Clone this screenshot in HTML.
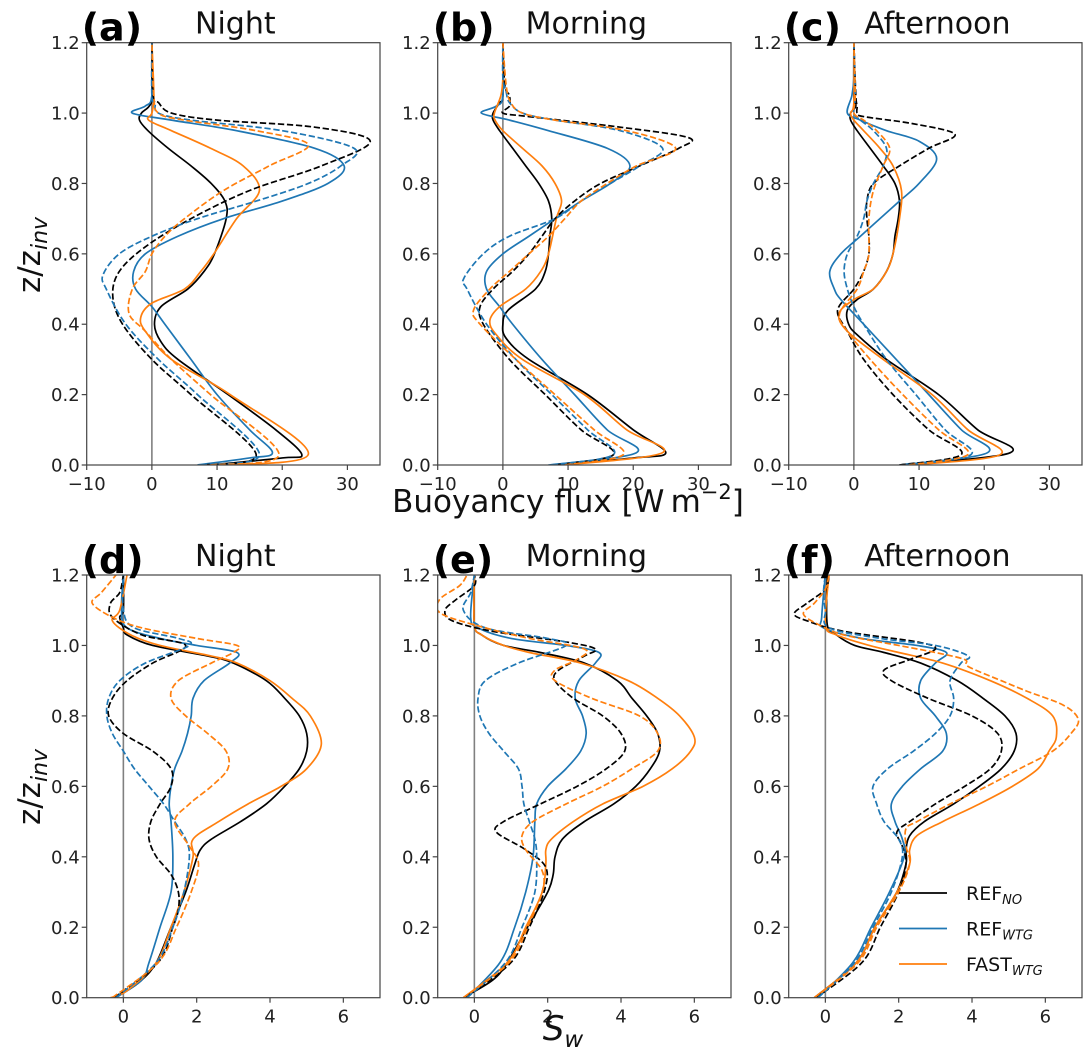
<!DOCTYPE html>
<html><head><meta charset="utf-8">
<style>
body{margin:0;background:#fff;}
svg{display:block;font-family:"DejaVu Sans","Liberation Sans",sans-serif;}
</style></head>
<body>
<svg id="chart" width="1091" height="1054" viewBox="0 0 1091 1054" xmlns="http://www.w3.org/2000/svg">
<rect width="1091" height="1054" fill="#fff"/>
<g id="root"></g>
</svg>
<script>
// ===== data: each profile is a list of [z/z_inv, value] =====
const panelLabels = ["(a)","(b)","(c)","(d)","(e)","(f)"];
const panelTitles = ["Night","Morning","Afternoon","Night","Morning","Afternoon"];
const seriesNames = ["REF_NO solid","REF_WTG solid","FAST_WTG solid","REF_NO dashed","REF_WTG dashed","FAST_WTG dashed"];
const topXTicks = [-10,0,10,20,30];
const botXTicks = [0,2,4,6];
const yTicks = [0,0.2,0.4,0.6,0.8,1.0,1.2];

const aBlack = [[0,9],[0.02,20],[0.03,23],[0.1,19],[0.2,11.7],[0.3,4],[0.35,1.4],[0.4,0.4],[0.45,1.4],[0.5,5.5],[0.55,8],[0.6,9.6],[0.7,11.4],[0.75,11.2],[0.8,9.1],[0.85,6],[0.9,2.5],[0.95,-0.6],[0.98,-1.9],[1.0,-1.6],[1.02,-0.4],[1.05,0],[1.2,0]];
const aBlue = [[0,7],[0.02,15],[0.035,18.5],[0.1,15],[0.2,10],[0.3,6],[0.4,2],[0.45,0],[0.5,-2.5],[0.55,-2.8],[0.6,-1],[0.65,4],[0.7,11],[0.75,20],[0.8,27],[0.85,29.5],[0.9,25],[0.95,13],[0.98,3],[1.0,-3],[1.02,-1],[1.05,0],[1.2,0]];
const aOrange = [[0,9],[0.03,24],[0.2,12],[0.3,3],[0.38,-1],[0.42,-1.7],[0.46,0],[0.5,5],[0.55,7.5],[0.6,9.5],[0.7,13],[0.78,16.5],[0.85,14],[0.9,9],[0.95,3],[0.98,-0.5],[1.0,0],[1.05,0.3],[1.2,0]];
const aBlackD = [[0,8],[0.03,16],[0.2,6],[0.3,0],[0.4,-4.5],[0.48,-6],[0.55,-5],[0.62,-1],[0.7,6],[0.78,15],[0.85,26],[0.92,33.5],[0.96,25],[0.98,10],[1.0,3],[1.03,1],[1.05,0.2],[1.2,0]];
const aBlueD = [[0,7.5],[0.03,16.5],[0.2,7],[0.3,1],[0.4,-4],[0.5,-7],[0.54,-7.5],[0.6,-5],[0.65,0],[0.7,7],[0.75,16],[0.8,24],[0.85,29],[0.9,31],[0.95,20],[0.98,6],[1.0,1],[1.03,0.5],[1.05,0],[1.2,0]];
const aOrangeD = [[0,9],[0.03,19.5],[0.2,9],[0.3,3],[0.38,-1],[0.43,-3.5],[0.5,-3],[0.55,-1],[0.6,0],[0.65,2],[0.7,5],[0.78,11],[0.85,18],[0.91,24],[0.95,16],[0.98,5],[1.0,1],[1.05,0.3],[1.2,0]];

const bBlack = [[0,8],[0.02,20],[0.035,25],[0.1,20],[0.2,13],[0.3,4],[0.36,0.5],[0.4,0],[0.44,0.8],[0.5,5],[0.55,6.5],[0.6,7],[0.65,7.2],[0.7,7.5],[0.75,7],[0.8,5.5],[0.85,3.5],[0.9,1.5],[0.95,-0.5],[0.98,-1.5],[1.0,-1.5],[1.03,-0.5],[1.05,0],[1.2,0]];
const bBlue = [[0,7],[0.035,20.5],[0.1,16],[0.2,11],[0.3,6],[0.4,1.5],[0.45,-0.5],[0.5,-2.5],[0.55,-2.5],[0.6,0],[0.65,4],[0.7,8],[0.75,12],[0.8,16.5],[0.85,19.5],[0.9,16],[0.95,7],[0.98,1],[1.0,-3.3],[1.02,-1],[1.05,0],[1.2,0]];
const bOrange = [[0,9.5],[0.035,24.5],[0.1,19],[0.2,12.5],[0.3,3],[0.37,-1],[0.41,-2],[0.45,-0.5],[0.5,3.5],[0.55,5.8],[0.6,7],[0.7,8.2],[0.75,9],[0.8,8],[0.85,6],[0.9,3],[0.95,0],[0.98,-1.2],[1.0,-1.3],[1.05,-0.3],[1.1,0],[1.2,0]];
const bBlackD = [[0,8],[0.03,17],[0.1,12],[0.2,6.5],[0.3,1],[0.4,-3],[0.45,-3.5],[0.5,-1.5],[0.55,1.5],[0.6,4],[0.65,6],[0.7,8],[0.75,11],[0.8,15],[0.85,21],[0.9,27],[0.93,28.5],[0.96,18],[0.99,4],[1.0,0],[1.02,1],[1.05,1],[1.08,0.3],[1.2,0]];
const bBlueD = [[0,7.5],[0.03,17],[0.1,13],[0.2,7.5],[0.3,2],[0.4,-2.5],[0.5,-5.5],[0.53,-6],[0.6,-3],[0.65,1],[0.7,8],[0.75,12],[0.8,16.5],[0.85,21],[0.9,24.5],[0.95,18],[0.98,8],[1.0,3],[1.03,1],[1.06,0.5],[1.1,0],[1.2,0]];
const bOrangeD = [[0,9.5],[0.03,18.5],[0.1,14],[0.2,8],[0.3,2],[0.4,-3.5],[0.44,-4.5],[0.5,-2],[0.55,1],[0.6,4],[0.65,7],[0.7,9.5],[0.75,12],[0.8,16],[0.85,20.5],[0.9,26.5],[0.95,19],[0.98,8],[1.0,3],[1.03,1.2],[1.08,0.5],[1.2,0]];

const cBlack = [[0,7],[0.035,24],[0.1,19],[0.2,13],[0.3,5],[0.37,0.5],[0.4,-0.8],[0.44,-1],[0.47,0.5],[0.5,3],[0.55,5],[0.6,6],[0.65,6.3],[0.7,6.8],[0.75,7],[0.8,6.3],[0.85,4.5],[0.9,2.5],[0.95,0.5],[0.98,-0.5],[1.0,-0.5],[1.02,0.3],[1.05,0],[1.2,0]];
const cBlue = [[0,7],[0.035,20.5],[0.1,16.5],[0.2,11.5],[0.3,6.5],[0.4,1.5],[0.47,-2],[0.5,-3],[0.55,-3.7],[0.6,-2],[0.65,1],[0.7,4],[0.75,7],[0.8,10],[0.87,12.7],[0.92,10],[0.95,5],[0.98,1],[1.0,-1],[1.05,-0.3],[1.1,0],[1.2,0]];
const cOrange = [[0,9],[0.03,22.5],[0.1,17.5],[0.2,12],[0.3,4.5],[0.38,-1],[0.43,-2.3],[0.47,0],[0.5,3],[0.55,5],[0.6,6],[0.7,7],[0.78,7.3],[0.85,6],[0.9,4],[0.95,1.5],[0.98,0],[1.0,-0.5],[1.03,0],[1.2,0]];
const cBlackD = [[0,7],[0.03,16.5],[0.1,11.5],[0.2,6],[0.3,1.5],[0.38,-1],[0.44,-2.5],[0.5,0],[0.55,1.5],[0.6,2.3],[0.65,2.3],[0.7,2],[0.75,2],[0.8,3],[0.85,7],[0.9,11.5],[0.94,15.5],[0.97,9],[0.99,1.5],[1.0,0.5],[1.02,0.5],[1.05,0.3],[1.2,0]];
const cBlueD = [[0,8],[0.03,18],[0.1,14],[0.2,9.5],[0.3,5],[0.4,1.5],[0.45,0],[0.5,-1],[0.55,-1.5],[0.6,-1],[0.65,0.5],[0.7,1.5],[0.75,2],[0.8,3],[0.85,4.5],[0.9,5],[0.95,3],[0.98,1],[1.0,0],[1.05,0.2],[1.2,0]];
const cOrangeD = [[0,8.5],[0.03,17.5],[0.1,13],[0.2,7.5],[0.3,2.5],[0.38,-1],[0.43,-2.2],[0.5,0.5],[0.55,1.5],[0.6,2.3],[0.7,2.3],[0.78,3],[0.85,4.5],[0.9,5.5],[0.95,3.5],[0.98,1.5],[1.0,0],[1.05,0.2],[1.2,0]];

const dBlack = [[0,-0.3],[0.02,0.1],[0.05,0.5],[0.1,0.9],[0.2,1.3],[0.3,1.7],[0.38,1.95],[0.42,2.1],[0.45,2.4],[0.5,3.2],[0.55,3.9],[0.6,4.4],[0.65,4.8],[0.7,5.0],[0.75,5.0],[0.8,4.8],[0.85,4.4],[0.9,3.9],[0.95,3.0],[0.97,2.3],[1.0,0.8],[1.03,0.1],[1.05,0],[1.08,-0.1],[1.1,0],[1.2,0]];
const dBlue = [[0,-0.2],[0.05,0.5],[0.1,0.7],[0.2,1.0],[0.3,1.3],[0.4,1.35],[0.5,1.3],[0.55,1.25],[0.6,1.3],[0.65,1.4],[0.7,1.6],[0.75,1.75],[0.8,1.85],[0.85,1.9],[0.9,2.2],[0.95,2.9],[0.98,3.1],[1.0,2.0],[1.02,1.0],[1.05,0.1],[1.1,-0.05],[1.2,0]];
const dOrange = [[0,-0.35],[0.02,0.1],[0.1,0.9],[0.2,1.3],[0.3,1.65],[0.4,1.9],[0.45,1.9],[0.5,2.6],[0.55,3.4],[0.6,4.3],[0.65,5.0],[0.72,5.4],[0.8,5.1],[0.85,4.6],[0.9,4.0],[0.95,3.1],[0.97,2.4],[1.0,1],[1.03,0.2],[1.07,-0.3],[1.1,-0.1],[1.2,0.1]];
const dBlackD = [[0,-0.25],[0.1,0.95],[0.2,1.35],[0.25,1.5],[0.3,1.5],[0.35,1.3],[0.4,0.9],[0.45,0.7],[0.5,0.75],[0.55,1.0],[0.6,1.3],[0.65,1.3],[0.7,0.8],[0.75,0.0],[0.8,-0.4],[0.85,-0.3],[0.9,0.1],[0.95,0.8],[1.0,1.7],[1.03,0.5],[1.08,-0.3],[1.12,-0.35],[1.15,-0.1],[1.2,0]];
const dBlueD = [[0,-0.2],[0.1,0.9],[0.2,1.35],[0.3,1.65],[0.4,1.8],[0.45,1.7],[0.5,1.4],[0.55,1.1],[0.6,0.7],[0.65,0.3],[0.7,0.0],[0.75,-0.3],[0.8,-0.45],[0.85,-0.4],[0.9,-0.1],[0.95,0.6],[1.0,1.8],[1.02,1.5],[1.05,0.3],[1.1,0],[1.2,0]];
const dOrangeD = [[0,-0.3],[0.1,0.95],[0.2,1.45],[0.3,1.85],[0.38,2.05],[0.43,1.8],[0.5,1.4],[0.55,1.8],[0.6,2.4],[0.65,2.85],[0.7,2.8],[0.75,2.3],[0.8,1.7],[0.85,1.3],[0.9,1.5],[0.95,2.4],[0.98,3.0],[1.0,3.1],[1.02,2],[1.05,0.5],[1.08,-0.3],[1.12,-0.85],[1.15,-0.6],[1.2,-0.2]];

const eBlack = [[0,-0.3],[0.05,0.5],[0.1,0.9],[0.2,1.45],[0.3,2.0],[0.35,2.15],[0.4,2.2],[0.45,2.4],[0.5,3.0],[0.55,3.8],[0.6,4.4],[0.65,4.8],[0.7,5.05],[0.75,5.0],[0.8,4.7],[0.85,4.3],[0.9,3.9],[0.95,3.0],[0.98,1.8],[1.0,0.8],[1.03,0.2],[1.06,0],[1.2,0]];
const eBlue = [[0,-0.2],[0.1,0.7],[0.2,1.1],[0.3,1.4],[0.4,1.6],[0.5,1.65],[0.55,1.7],[0.6,2.0],[0.65,2.5],[0.7,2.9],[0.75,3.05],[0.8,2.95],[0.85,2.75],[0.9,2.85],[0.95,3.3],[0.98,3.4],[1.0,2.5],[1.02,1.0],[1.05,0.1],[1.08,-0.1],[1.2,0]];
const eOrange = [[0,-0.3],[0.1,0.9],[0.2,1.4],[0.3,1.85],[0.38,1.95],[0.42,1.95],[0.45,2.1],[0.5,2.7],[0.55,3.5],[0.6,4.6],[0.65,5.4],[0.7,5.9],[0.74,6.0],[0.8,5.6],[0.85,5.0],[0.9,4.2],[0.95,2.9],[0.98,1.5],[1.0,0.8],[1.03,0.2],[1.06,0],[1.2,0]];
const eBlackD = [[0,-0.25],[0.1,1.0],[0.2,1.5],[0.3,1.9],[0.37,1.95],[0.42,1.4],[0.47,0.6],[0.5,0.8],[0.55,1.8],[0.6,2.8],[0.65,3.6],[0.7,4.1],[0.75,4.0],[0.8,3.5],[0.85,2.7],[0.9,2.2],[0.93,2.3],[0.97,3.0],[0.99,3.3],[1.01,2.5],[1.04,0.5],[1.07,-0.6],[1.1,-0.8],[1.13,-0.5],[1.17,0],[1.2,0]];
const eBlueD = [[0,-0.2],[0.1,0.85],[0.2,1.3],[0.3,1.65],[0.4,1.7],[0.45,1.65],[0.5,1.5],[0.55,1.35],[0.6,1.3],[0.65,1.2],[0.7,0.8],[0.75,0.4],[0.8,0.15],[0.85,0.1],[0.9,0.3],[0.95,1.2],[1.0,2.5],[1.02,2.0],[1.05,0.3],[1.1,-0.3],[1.15,-0.1],[1.2,0]];
const eOrangeD = [[0,-0.3],[0.1,0.95],[0.2,1.45],[0.3,1.85],[0.36,1.85],[0.42,1.4],[0.46,1.3],[0.5,1.6],[0.55,2.5],[0.6,3.5],[0.65,4.3],[0.7,5.0],[0.75,5.0],[0.8,4.5],[0.85,3.2],[0.9,2.2],[0.93,2.2],[0.96,2.8],[0.99,3.0],[1.02,1.5],[1.05,0.3],[1.09,-0.9],[1.13,-0.95],[1.17,-0.4],[1.2,-0.2]];

const fBlack = [[0,-0.3],[0.1,0.85],[0.2,1.35],[0.3,1.95],[0.38,2.2],[0.42,2.2],[0.46,2.3],[0.5,2.7],[0.55,3.5],[0.6,4.2],[0.65,4.8],[0.7,5.15],[0.75,5.2],[0.8,4.9],[0.85,4.3],[0.9,3.6],[0.95,2.6],[0.98,1.6],[1.0,0.8],[1.03,0.3],[1.06,0.05],[1.2,0.05]];
const fBlue = [[0,-0.2],[0.1,0.75],[0.2,1.25],[0.3,1.75],[0.4,2.15],[0.45,2.1],[0.5,1.9],[0.55,1.8],[0.6,2.1],[0.65,2.6],[0.7,3.2],[0.75,3.3],[0.8,3.0],[0.85,2.6],[0.9,2.6],[0.95,3.0],[0.98,3.3],[1.0,2.5],[1.02,1.0],[1.05,-0.05],[1.08,-0.1],[1.2,0]];
const fOrange = [[0,-0.3],[0.1,0.85],[0.2,1.35],[0.3,1.95],[0.38,2.3],[0.42,2.3],[0.46,2.5],[0.5,3.2],[0.55,4.2],[0.6,5.1],[0.65,5.8],[0.7,6.1],[0.74,6.3],[0.8,6.2],[0.85,5.5],[0.9,4.5],[0.95,3.2],[0.98,2.0],[1.0,1.2],[1.03,0.3],[1.06,0],[1.2,0.1]];
const fBlackD = [[0,-0.25],[0.1,1.0],[0.2,1.5],[0.3,2.0],[0.38,2.2],[0.43,2.1],[0.47,1.95],[0.5,2.3],[0.55,3.0],[0.6,3.8],[0.65,4.5],[0.7,4.8],[0.75,4.7],[0.8,4.0],[0.85,2.8],[0.9,1.8],[0.93,1.6],[0.96,2.3],[0.99,3.0],[1.01,2.5],[1.04,0.5],[1.07,-0.5],[1.09,-0.85],[1.12,-0.5],[1.16,0],[1.2,0.1]];
const fBlueD = [[0,-0.2],[0.1,0.8],[0.2,1.3],[0.3,1.8],[0.4,2.1],[0.45,2.0],[0.5,1.6],[0.55,1.4],[0.6,1.3],[0.65,1.7],[0.7,2.4],[0.75,3.0],[0.8,3.4],[0.85,3.5],[0.9,3.4],[0.95,3.7],[0.97,3.9],[1.0,3.0],[1.02,1.5],[1.05,0.1],[1.1,0],[1.15,-0.05],[1.2,0]];
const fOrangeD = [[0,-0.3],[0.1,0.9],[0.2,1.4],[0.3,2.0],[0.38,2.3],[0.43,2.2],[0.48,2.2],[0.5,2.5],[0.55,3.4],[0.6,4.4],[0.65,5.3],[0.7,6.2],[0.75,6.7],[0.79,6.9],[0.83,6.5],[0.87,5.5],[0.9,4.8],[0.94,3.9],[0.96,3.8],[0.98,3.0],[1.0,2.0],[1.03,0.5],[1.06,-0.2],[1.09,-0.6],[1.12,-0.3],[1.16,0],[1.2,0.1]];

const panelSeries = [
  [aBlack,aBlue,aOrange,aBlackD,aBlueD,aOrangeD],
  [bBlack,bBlue,bOrange,bBlackD,bBlueD,bOrangeD],
  [cBlack,cBlue,cOrange,cBlackD,cBlueD,cOrangeD],
  [dBlack,dBlue,dOrange,dBlackD,dBlueD,dOrangeD],
  [eBlack,eBlue,eOrange,eBlackD,eBlueD,eOrangeD],
  [fBlack,fBlue,fOrange,fBlackD,fBlueD,fOrangeD]
];

// ===== drawing =====
const NS = "http://www.w3.org/2000/svg";
const root = document.getElementById('root');
const colors = ["#000000","#1f77b4","#ff7f0e","#000000","#1f77b4","#ff7f0e"];
function mk(tag, attrs, parent){const e=document.createElementNS(NS,tag);for(const k in attrs)e.setAttribute(k,attrs[k]);(parent||root).appendChild(e);return e;}

const frameL0 = 86.7, frameW = 293.3, colStep = 351;
const rows = [{top:42.7,bot:465,xmin:-10,xmax:35,ticks:topXTicks,fmt:v=>v<0?"\u2212"+(-v):String(v)},
              {top:575,bot:997.7,xmin:-1,xmax:7,ticks:botXTicks,fmt:v=>String(v)}];

function smoothPath(pts){
  let d = "M"+pts[0][0].toFixed(2)+","+pts[0][1].toFixed(2);
  for(let i=0;i<pts.length-1;i++){
    const p0=pts[Math.max(0,i-1)],p1=pts[i],p2=pts[i+1],p3=pts[Math.min(pts.length-1,i+2)];
    const c1=[p1[0]+(p2[0]-p0[0])/6,p1[1]+(p2[1]-p0[1])/6];
    const c2=[p2[0]-(p3[0]-p1[0])/6,p2[1]-(p3[1]-p1[1])/6];
    d+=" C"+c1[0].toFixed(2)+","+c1[1].toFixed(2)+" "+c2[0].toFixed(2)+","+c2[1].toFixed(2)+" "+p2[0].toFixed(2)+","+p2[1].toFixed(2);
  }
  return d;
}

for(let p=0;p<6;p++){
  const r = rows[Math.floor(p/3)];
  const L = frameL0 + (p%3)*colStep;
  const xS = v => L + (v-r.xmin)/(r.xmax-r.xmin)*frameW;
  const yS = z => r.bot - z/1.2*(r.bot-r.top);
  const g = mk('g',{});
  
  
  const cp = mk('clipPath',{id:'clip'+p},g);
  mk('rect',{x:L,y:r.top,width:frameW,height:r.bot-r.top},cp);
  const zl = mk('line',{x1:xS(0),x2:xS(0),y1:r.top,y2:r.bot,stroke:'#808080','stroke-width':1.6},g);
  
  
  const sg = mk('g',{'clip-path':'url(#clip'+p+')'},g);
  panelSeries[p].forEach((s,i)=>{
    const pts = s.map(q=>[xS(q[1]), yS(q[0])]);
    const path = mk('path',{d:smoothPath(pts),fill:'none',stroke:colors[i],'stroke-width':1.7,'stroke-dasharray':i>=3?'6.3,2.7':'none','stroke-linejoin':'round'},sg);
    
    
  });
  const fr = mk('rect',{x:L,y:r.top,width:frameW,height:r.bot-r.top,fill:'none',stroke:'#444','stroke-width':1.2},g);
  
  
  yTicks.forEach(t=>{
    const y=yS(t);
    mk('line',{x1:L-5,x2:L,y1:y,y2:y,stroke:'#444','stroke-width':1.2},g);
    const tx=mk('text',{x:L-7,y:y+6.5,'text-anchor':'end','font-size':18,fill:'#222'},g);
    tx.textContent=t.toFixed(1);
    
    
  });
  r.ticks.forEach(t=>{
    const x=xS(t);
    mk('line',{x1:x,x2:x,y1:r.bot,y2:r.bot+5,stroke:'#444','stroke-width':1.2},g);
    const tx=mk('text',{x:x,y:r.bot+25,'text-anchor':'middle','font-size':18,fill:'#222'},g);
    tx.textContent=r.fmt(t);
    
    
  });
  const ti=mk('text',{x:L+frameW/2+2,y:r.top-9,'text-anchor':'middle','font-size':30,fill:'#111'},g);
  ti.textContent=panelTitles[p];
  
  
  const la=mk('text',{x:L-5,y:r.top-2,'font-size':38,'font-weight':'bold',fill:'#000'},g);
  la.textContent=panelLabels[p];
  
  
}

function ylab(cy){
  const t=mk('text',{x:0,y:0,transform:'translate(40,'+cy+') rotate(-90)','text-anchor':'middle','font-size':31,fill:'#111'});
  t.innerHTML='z/z<tspan font-size="22" dy="7" font-style="italic">inv</tspan>';
  
  
}
ylab(255); ylab(787);
const xl1=mk('text',{x:568,y:512,'text-anchor':'middle','font-size':31,fill:'#111'});
xl1.innerHTML='Buoyancy flux [W\u2009m<tspan font-size="21" dy="-13">\u22122</tspan><tspan dy="13">]</tspan>';


const xl2=mk('text',{x:563,y:1040,'text-anchor':'middle','font-size':34,fill:'#111','font-style':'italic'});
xl2.innerHTML='S<tspan font-size="23" dy="7">w</tspan>';



const legendLabels=[["REF","NO"],["REF","WTG"],["FAST","WTG"]];
const lg=mk('g',{});


legendLabels.forEach((l,i)=>{
  const y=893+i*35.5;
  mk('line',{x1:899,x2:947,y1:y,y2:y,stroke:colors[i],'stroke-width':1.7},lg);
  const t=mk('text',{x:966,y:y+7,'font-size':19,fill:'#111'},lg);
  t.innerHTML=l[0]+'<tspan font-size="13" dy="4" font-style="italic">'+l[1]+'</tspan>';
  
  
});
</script>
</body></html>
